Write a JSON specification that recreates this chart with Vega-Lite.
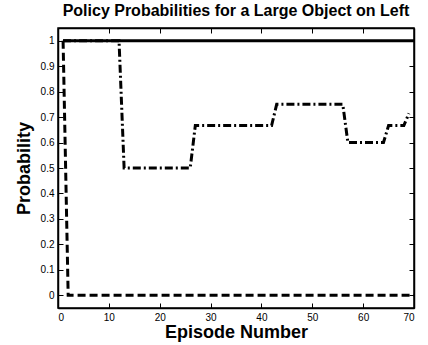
{
  "$schema": "https://vega.github.io/schema/vega-lite/v6.json",
  "width": 356,
  "height": 280,
  "autosize": {"type": "none"},
  "padding": {"left": 58, "top": 28, "right": 14, "bottom": 37},
  "background": "white",
  "config": {
    "font": "Liberation Sans",
    "view": {"stroke": "black", "strokeWidth": 1.5},
    "axis": {"grid": false, "domainColor": "black", "domainWidth": 1.5, "tickColor": "black", "labelColor": "black", "titleColor": "black", "labelFont": "Liberation Sans", "titleFont": "Liberation Sans", "labelFontSize": 10, "labelFontWeight": "normal"}
  },
  "title": {"text": "Policy Probabilities for a Large Object on Left", "font": "Liberation Sans", "fontSize": 16, "fontWeight": "bold", "color": "black", "anchor": "middle", "offset": 9},
  "data": {"values": [
    {"episode": 1, "prob": 1, "series": "a"},
    {"episode": 70, "prob": 1, "series": "a"},
    {"episode": 1, "prob": 1, "series": "b"},
    {"episode": 2, "prob": 0, "series": "b"},
    {"episode": 70, "prob": 0, "series": "b"},
    {"episode": 1, "prob": 1, "series": "c"},
    {"episode": 12, "prob": 1, "series": "c"},
    {"episode": 13, "prob": 0.5, "series": "c"},
    {"episode": 26, "prob": 0.5, "series": "c"},
    {"episode": 27, "prob": 0.6667, "series": "c"},
    {"episode": 42, "prob": 0.6667, "series": "c"},
    {"episode": 43, "prob": 0.75, "series": "c"},
    {"episode": 56, "prob": 0.75, "series": "c"},
    {"episode": 57, "prob": 0.6, "series": "c"},
    {"episode": 64, "prob": 0.6, "series": "c"},
    {"episode": 65, "prob": 0.6667, "series": "c"},
    {"episode": 68, "prob": 0.6667, "series": "c"},
    {"episode": 69, "prob": 0.7143, "series": "c"}
  ]},
  "layer": [
    {
      "mark": {"type": "line", "color": "black", "strokeWidth": 3},
      "encoding": {
        "x": {"field": "episode", "type": "quantitative", "scale": {"domain": [0, 70], "nice": false, "zero": false},
          "axis": {"orient": "bottom", "values": [0,10,20,30,40,50,60,70], "tickSize": -5, "labelPadding": 9, "title": "Episode Number", "titleFontSize": 18, "titleFontWeight": "bold", "titlePadding": 1}},
        "y": {"field": "prob", "type": "quantitative", "scale": {"domain": [-0.05, 1.05], "nice": false, "zero": false},
          "axis": {"orient": "left", "values": [0,0.1,0.2,0.3,0.4,0.5,0.6,0.7,0.8,0.9,1], "format": "~g", "tickSize": -5, "labelPadding": 9, "title": "Probability", "titleFontSize": 18, "titleFontWeight": "bold", "titlePadding": 7}},
        "strokeDash": {"field": "series", "type": "nominal", "scale": {"domain": ["a","b","c"], "range": [[1,0],[8,4],[8,3,2,3]]}, "legend": null},
        "detail": {"field": "series"}
      }
    },
    {
      "mark": {"type": "line", "opacity": 0},
      "encoding": {
        "x": {"field": "episode", "type": "quantitative", "scale": {"domain": [0, 70], "nice": false, "zero": false},
          "axis": {"orient": "top", "values": [0,10,20,30,40,50,60,70], "tickSize": -5, "labels": false, "title": null}},
        "y": {"field": "prob", "type": "quantitative", "scale": {"domain": [-0.05, 1.05], "nice": false, "zero": false},
          "axis": {"orient": "right", "values": [0,0.1,0.2,0.3,0.4,0.5,0.6,0.7,0.8,0.9,1], "tickSize": -5, "labels": false, "title": null}},
        "detail": {"field": "series"}
      }
    }
  ],
  "resolve": {"scale": {"x": "independent", "y": "independent"}, "axis": {"x": "independent", "y": "independent"}}
}
